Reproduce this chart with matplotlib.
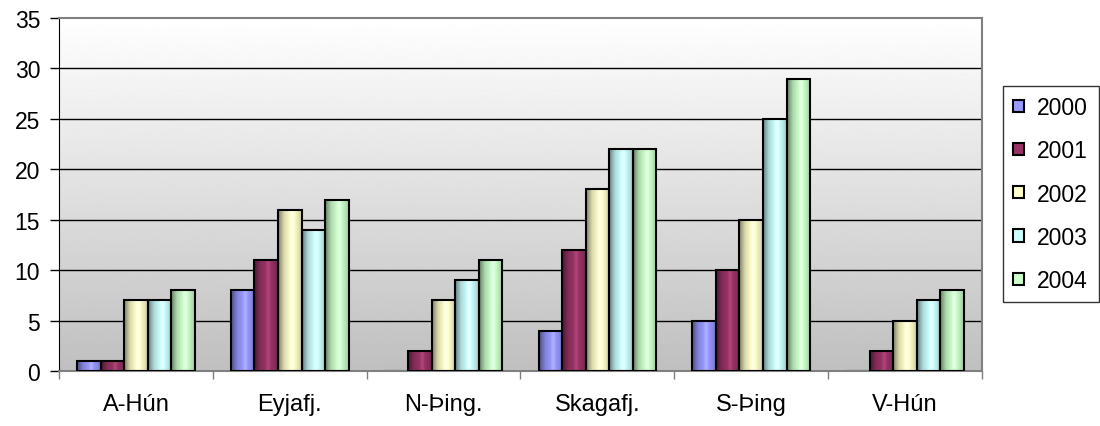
import numpy as np
import matplotlib.pyplot as plt
from matplotlib.colors import to_rgb

plt.rcParams['font.family'] = ['Liberation Sans', 'DejaVu Sans']

regions = ['A-Hún', 'Eyjafj.', 'N-Þing.', 'Skagafj.', 'S-Þing', 'V-Hún']
years = ['2000', '2001', '2002', '2003', '2004']
v2000 = [1, 8, 0, 4, 5, 0]
v2001 = [1, 11, 2, 12, 10, 2]
v2002 = [7, 16, 7, 18, 15, 5]
v2003 = [7, 14, 9, 22, 25, 7]
v2004 = [8, 17, 11, 22, 29, 8]
series = [v2000, v2001, v2002, v2003, v2004]
colors = ['#9999ff', '#993366', '#ffffcc', '#ccffff', '#ccffcc']

fig = plt.figure(figsize=(11, 4.27), dpi=100)
ax = fig.add_axes([59 / 1100, 1 - 372 / 427, 923 / 1100, 353 / 427])

# plot area background: white at top fading to grey
bg = np.linspace(1.0, 0.75, 256).reshape(-1, 1)
ax.imshow(bg, cmap='gray', vmin=0, vmax=1, aspect='auto',
          extent=[-0.5, 5.5, 0, 35], origin='upper', zorder=0)

for yv in range(5, 35, 5):
    ax.axhline(yv, color='black', lw=1, zorder=1)

w = 0.153
x = np.arange(len(regions))
for i, (vals, c) in enumerate(zip(series, colors)):
    base = np.array(to_rgb(c))
    # horizontal shading: dark left edge, bright middle, slightly darker right
    t = np.linspace(0, 1, 64)
    shade = np.interp(t, [0, 0.25, 0.6, 1.0], [0.5, 0.85, 1.05, 0.8])
    grad = np.clip(base[None, :] * shade[:, None] + (shade[:, None] > 1) * 0.05, 0, 1)
    img = grad[None, :, :]
    bars = ax.bar(x + (i - 2) * w, vals, w, color=c, edgecolor='black',
                  lw=1.5, label=years[i], zorder=2)
    for b, v in zip(bars, vals):
        if v <= 0:
            continue
        im = ax.imshow(img, aspect='auto', zorder=2.5,
                       extent=[b.get_x(), b.get_x() + w, 0, v])
        im.set_clip_path(b)
        b.set_zorder(3)
        b.set_facecolor('none')

ax.set_xlim(-0.5, 5.5)
ax.set_ylim(0, 35)
ax.set_yticks(range(0, 36, 5))
ax.set_xticks(x)
ax.set_xticklabels(regions)
ax.set_xticks(np.arange(-0.5, 6, 1), minor=True)
ax.tick_params(axis='x', which='major', length=0, pad=16, labelsize=17)
ax.tick_params(axis='x', which='minor', length=6, width=1, color='#808080')
ax.tick_params(axis='y', length=6.5, width=1, labelsize=16.5, pad=7)
for s in ['top', 'right', 'bottom']:
    ax.spines[s].set_color('#808080')
    ax.spines[s].set_linewidth(1.5)
ax.spines['left'].set_color('black')

handles, labels = ax.get_legend_handles_labels()
leg = fig.legend(handles, labels, loc='center left',
                 bbox_to_anchor=(1003 / 1100, 1 - 195 / 427),
                 frameon=True, fontsize=16.5, handlelength=0.45, handleheight=0.45,
                 labelspacing=0.88, borderpad=0.45, handletextpad=0.6,
                 borderaxespad=0, fancybox=False)
leg.get_frame().set_edgecolor('black')
leg.get_frame().set_linewidth(1)
for h, c in zip(leg.legend_handles, colors):
    h.set_facecolor(c)
    h.set_edgecolor('black')

fig.savefig('out.png', dpi=100)
